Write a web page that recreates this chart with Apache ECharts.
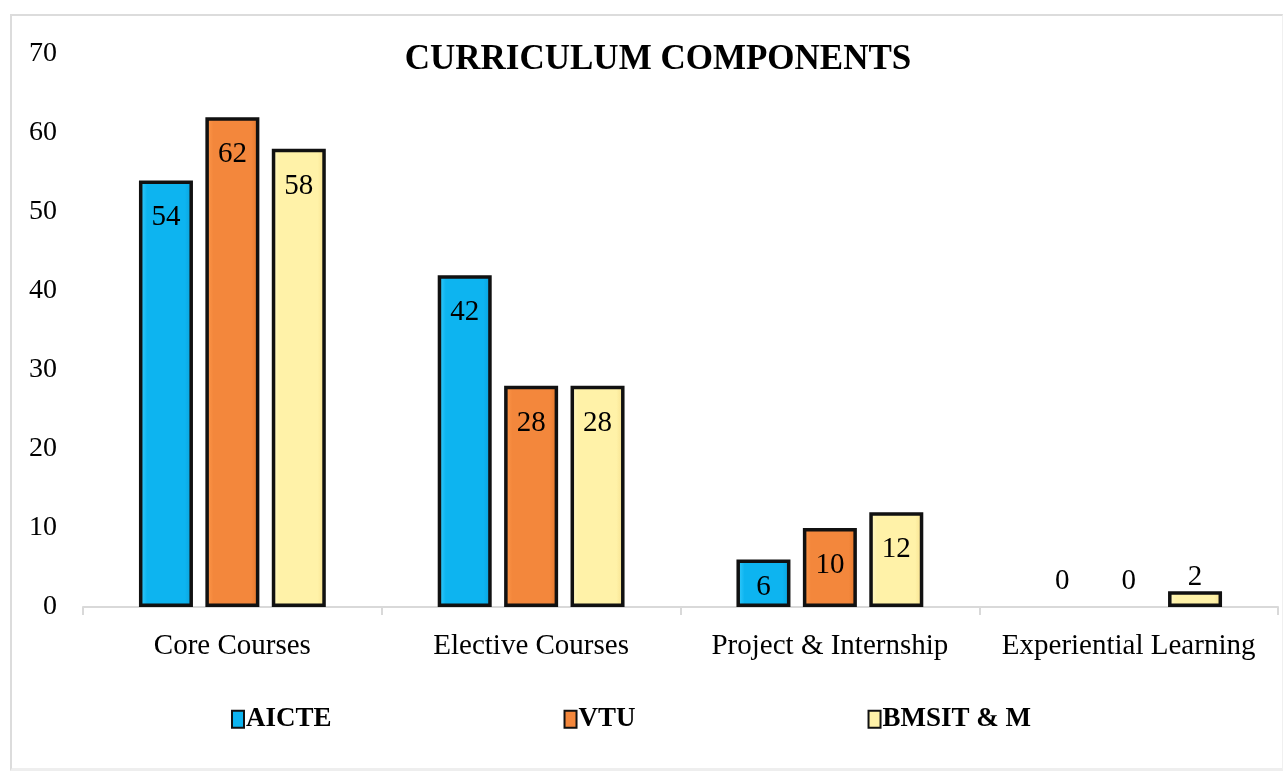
<!DOCTYPE html>
<html>
<head>
    <title>Curriculum Components</title>
    <script src="https://cdn.jsdelivr.net/npm/echarts@6.0.0/dist/echarts.min.js"></script>
    <style>
        body { margin: 0; background: #fff; }
        #frame { position: absolute; left: 10px; top: 14px; width: 1270px; height: 752px; border: 2px solid #dcdcdc; border-right: 1px solid #f0f0f0; border-bottom: 3px solid #eeeeee; }
        #chart { position: absolute; left: 0; top: 0; width: 1284px; height: 774px; }
    </style>
</head>
<body>
    <div id="frame"></div>
    <div id="chart"></div>

    <script>
        const categories = ['Core Courses', 'Elective Courses', 'Project & Internship', 'Experiential Learning'];
        const seriesNames = ['AICTE', 'VTU', 'BMSIT & M'];
        const aicte = [54, 42, 6, 0];
        const vtu = [62, 28, 10, 0];
        const bmsit = [58, 28, 12, 2];

        const font = '"Liberation Serif", "Times New Roman", serif';

        function bevel(light, mid, dark) {
            return new echarts.graphic.LinearGradient(0, 0, 1, 0, [
                { offset: 0, color: light },
                { offset: 0.15, color: mid },
                { offset: 0.85, color: mid },
                { offset: 1, color: dark }
            ]);
        }

        const fills = [
            bevel('#3fd0ff', '#0db4f0', '#0a9fd8'),
            bevel('#ff9a4c', '#f3873c', '#e07428'),
            bevel('#fff9c8', '#fff2a8', '#f5de8a')
        ];

        // label placement: outside for tiny bars, inside-top otherwise
        function labelFor(v) {
            if (v === 0) return { position: 'top', distance: 3 };
            if (v < 4) return { position: 'top', distance: -8 };
            if (v < 8) return { position: 'insideTop', distance: 6 };
            return { position: 'insideTop', distance: 15 };
        }

        function makeSeries(name, values, i) {
            return {
                name: name,
                type: 'bar',
                barWidth: 54,
                barGap: '23%',
                data: values.map(v => ({
                    value: v,
                    label: labelFor(v),
                    itemStyle: v === 0 ? { borderWidth: 0 } : undefined
                })),
                itemStyle: { color: fills[i], borderColor: '#111', borderWidth: 3.5 },
                label: {
                    show: true,
                    fontFamily: font,
                    fontSize: 29,
                    color: '#000'
                }
            };
        }

        const chart = echarts.init(document.getElementById('chart'));
        chart.setOption({
            animation: false,
            title: {
                text: 'CURRICULUM COMPONENTS',
                left: 653,
                textAlign: 'center',
                top: 27,
                textStyle: { fontFamily: font, fontSize: 35, fontWeight: 'bold', color: '#000' }
            },
            legend: {
                data: seriesNames,
                icon: 'rect',
                left: 226,
                top: 693,
                itemGap: 232,
                itemWidth: 12,
                itemHeight: 17,
                itemStyle: { borderColor: '#111', borderWidth: 2 },
                textStyle: { fontFamily: font, fontSize: 27, fontWeight: 'bold', color: '#000', padding: [0, 0, 0, -3] }
            },
            grid: { left: 83, right: 6, top: 54, bottom: 167 },
            xAxis: {
                type: 'category',
                data: categories,
                axisLine: { lineStyle: { color: '#d9d9d9', width: 2 } },
                axisTick: { show: true, length: 8, lineStyle: { color: '#d9d9d9', width: 2 } },
                axisLabel: { interval: 0, fontFamily: font, fontSize: 29, color: '#000', margin: 17 }
            },
            yAxis: {
                type: 'value',
                min: 0,
                max: 70,
                interval: 10,
                splitLine: { show: false },
                axisLine: { show: false },
                axisLabel: { fontFamily: font, fontSize: 28, color: '#000', margin: 26 }
            },
            series: [
                makeSeries(seriesNames[0], aicte, 0),
                makeSeries(seriesNames[1], vtu, 1),
                makeSeries(seriesNames[2], bmsit, 2)
            ]
        });
    </script>
</body>
</html>
